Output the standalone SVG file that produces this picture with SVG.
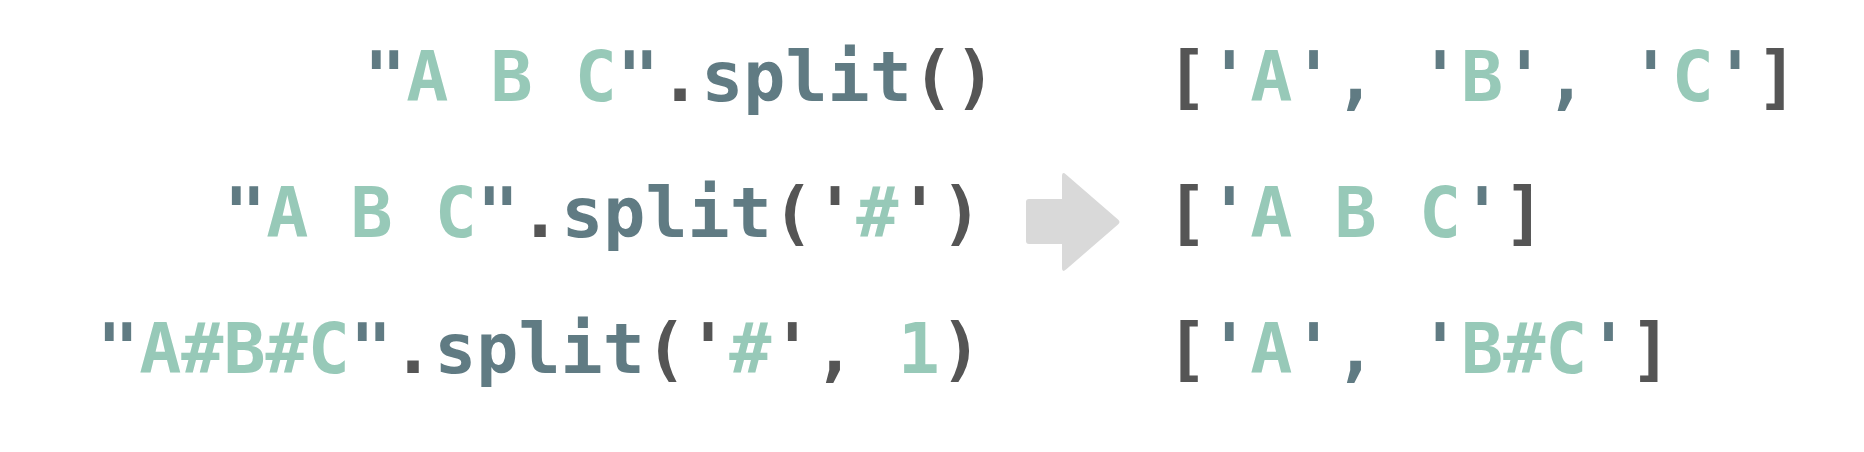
<svg xmlns="http://www.w3.org/2000/svg" width="1864" height="452" viewBox="0 0 1864 452">
<style>
text { font-family: "DejaVu Sans Mono", "Liberation Mono", monospace; font-weight: bold; font-size: 70px; white-space: pre; }
.g { fill: #97c9b8; }
.s { fill: #607b83; }
.d { fill: #555555; }
.arrow { fill: #d9d9d9; }
</style>
<rect width="1864" height="452" fill="#ffffff"/>
<g id="connectors">
<path class="arrow" d="M1029,199 H1062 V176 Q1062,171 1066,174.5 L1118,219.5 Q1121,222 1118,224.5 L1066,269.5 Q1062,273 1062,268 V244 H1029 Q1026,244 1026,241 V202 Q1026,199 1029,199 Z"/>
</g>
<g id="code1">
<text x="364" y="101" xml:space="preserve"><tspan class="s">"</tspan><tspan class="g">A B C</tspan><tspan class="s">"</tspan><tspan class="d">.</tspan><tspan class="s">split</tspan><tspan class="d">()</tspan></text>
</g>
<g id="result1">
<text x="1166" y="101" xml:space="preserve"><tspan class="d">[</tspan><tspan class="s">'</tspan><tspan class="g">A</tspan><tspan class="s">', '</tspan><tspan class="g">B</tspan><tspan class="s">', '</tspan><tspan class="g">C</tspan><tspan class="s">'</tspan><tspan class="d">]</tspan></text>
</g>
<g id="code2">
<text x="224" y="237" xml:space="preserve"><tspan class="s">"</tspan><tspan class="g">A B C</tspan><tspan class="s">"</tspan><tspan class="d">.</tspan><tspan class="s">split</tspan><tspan class="d">('</tspan><tspan class="g">#</tspan><tspan class="d">')</tspan></text>
</g>
<g id="result2">
<text x="1166" y="237" xml:space="preserve"><tspan class="d">[</tspan><tspan class="s">'</tspan><tspan class="g">A B C</tspan><tspan class="s">'</tspan><tspan class="d">]</tspan></text>
</g>
<g id="code3">
<text x="97" y="373" xml:space="preserve"><tspan class="s">"</tspan><tspan class="g">A#B#C</tspan><tspan class="s">"</tspan><tspan class="d">.</tspan><tspan class="s">split</tspan><tspan class="d">('</tspan><tspan class="g">#</tspan><tspan class="d">', </tspan><tspan class="g">1</tspan><tspan class="d">)</tspan></text>
</g>
<g id="result3">
<text x="1166" y="373" xml:space="preserve"><tspan class="d">[</tspan><tspan class="s">'</tspan><tspan class="g">A</tspan><tspan class="s">', '</tspan><tspan class="g">B#C</tspan><tspan class="s">'</tspan><tspan class="d">]</tspan></text>
</g>
</svg>
